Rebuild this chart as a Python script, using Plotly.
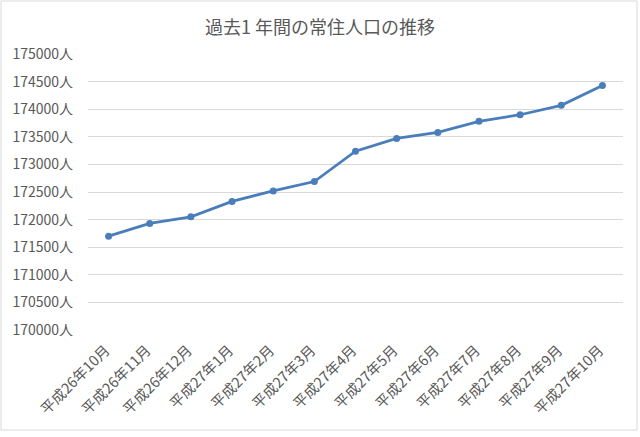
import plotly.graph_objects as go

months = ["平成26年10月", "平成26年11月", "平成26年12月", "平成27年1月", "平成27年2月",
          "平成27年3月", "平成27年4月", "平成27年5月", "平成27年6月", "平成27年7月",
          "平成27年8月", "平成27年9月", "平成27年10月"]
population = [171700, 171930, 172050, 172330, 172520, 172690, 173240,
              173470, 173580, 173780, 173900, 174070, 174430]
y_ticks = list(range(170000, 175001, 500))
y_tick_labels = [f"{v}人" for v in y_ticks]

FONT = "Meiryo, 'Noto Sans CJK JP', sans-serif"
TEXT = "#595959"
LINE = "#4A7EBB"

fig = go.Figure()
fig.add_trace(go.Scatter(
    x=months, y=population, mode="lines+markers",
    line=dict(color=LINE, width=2.75),
    marker=dict(color=LINE, size=7),
    hoverinfo="x+y",
))

fig.update_layout(
    width=640, height=437,
    margin=dict(l=88, r=17, t=54, b=107),
    paper_bgcolor="white", plot_bgcolor="white",
    showlegend=False,
    title=dict(text="過去1 年間の常住人口の推移", x=0.5, xanchor="center",
               y=1 - 28 / 437, yanchor="middle",
               font=dict(family=FONT, size=18, color=TEXT)),
    xaxis=dict(type="category", range=[-0.5, len(months) - 0.5],
               tickangle=-45, showgrid=False, zeroline=False,
               showline=False, ticks="", automargin=False,
               ticklabelstandoff=8, ticklabelshift=-3,
               tickfont=dict(family=FONT, size=14.5, color=TEXT)),
    yaxis=dict(range=[170000, 175000], tickvals=y_ticks, ticktext=y_tick_labels,
               showgrid=True, gridcolor="#D9D9D9", gridwidth=1, zeroline=False,
               showline=False, ticks="", ticklabelstandoff=14, automargin=False,
               tickfont=dict(family=FONT, size=14, color=TEXT)),
    shapes=[dict(type="rect", xref="paper", yref="paper",
                 x0=-87 / 535, x1=549 / 535, y0=-100 / 276, y1=329 / 276,
                 line=dict(color="#D9D9D9", width=1), fillcolor="rgba(0,0,0,0)",
                 layer="below")],
)

fig.write_html("out.html", config={"displayModeBar": False},
               post_script="document.body.style.margin='0';document.body.style.overflow='hidden';")
